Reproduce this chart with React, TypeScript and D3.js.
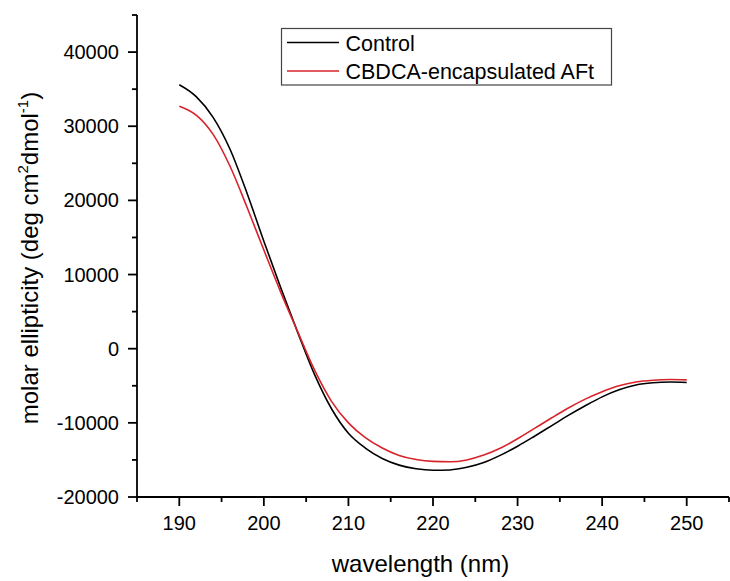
import React from 'react';
import * as d3 from 'd3';

const width = 730;
const height = 581;
const margin = { top: 15, right: 1, bottom: 84, left: 137 };
const red = '#d8232a';
const font = '"Liberation Sans", Arial, sans-serif';

// wavelength (nm) every 2 nm
const wavelengths = [
  190, 192, 194, 196, 198, 200, 202, 204, 206, 208, 210, 212, 214, 216, 218, 220,
  222, 224, 226, 228, 230, 232, 234, 236, 238, 240, 242, 244, 246, 248, 250
];
const control = [
  35600, 34000, 31200, 26900, 21000, 14500, 8200, 2200, -3500, -8100, -11400, -13400,
  -14800, -15700, -16200, -16400, -16350, -16000, -15350, -14350, -13150, -11800,
  -10400, -9000, -7700, -6500, -5550, -4900, -4600, -4500, -4550
];
const cbdca = [
  32700, 31500, 28900, 24600, 19100, 13300, 7600, 2300, -2900, -7100, -10000, -12000,
  -13400, -14400, -14950, -15200, -15250, -15000, -14350, -13400, -12150, -10750,
  -9350, -8000, -6800, -5800, -5000, -4500, -4250, -4150, -4200
];

const series = [
  { name: 'Control', values: control, color: '#000' },
  { name: 'CBDCA-encapsulated AFt', values: cbdca, color: red }
];

const xMajor = [190, 200, 210, 220, 230, 240, 250];
const xMinor = [185, 195, 205, 215, 225, 235, 245, 255];
const yMajor = [-20000, -10000, 0, 10000, 20000, 30000, 40000];
const yMinor = [-15000, -5000, 5000, 15000, 25000, 35000, 45000];

const x = d3.scaleLinear().domain([185, 255]).range([margin.left, width - margin.right]);
const y = d3.scaleLinear().domain([-20000, 45000]).range([height - margin.bottom, margin.top]);

const line = d3
  .line<number>()
  .x((d, i) => x(wavelengths[i]))
  .y(d => y(d))
  .curve(d3.curveMonotoneX);

export default function App() {
  const x0 = margin.left;
  const y0 = height - margin.bottom;
  return (
    <svg
      width={width}
      height={height}
      style={{ position: 'absolute', left: 0, top: 0, background: '#fff' }}
      fontFamily={font}
    >
      {/* axes */}
      <line x1={x0} x2={x0} y1={margin.top} y2={y0} stroke="#000" strokeWidth={1.8} />
      <line x1={x0} x2={width - margin.right} y1={y0} y2={y0} stroke="#000" strokeWidth={1.8} />
      {yMajor.map(v => (
        <g key={'ym' + v}>
          <line x1={x0 - 9} x2={x0} y1={y(v)} y2={y(v)} stroke="#000" strokeWidth={1.8} />
          <text x={x0 - 18} y={y(v)} dy="0.35em" textAnchor="end" fontSize={20}>
            {v}
          </text>
        </g>
      ))}
      {yMinor.map(v => (
        <line key={'yn' + v} x1={x0 - 5} x2={x0} y1={y(v)} y2={y(v)} stroke="#000" strokeWidth={1.8} />
      ))}
      {xMajor.map(v => (
        <g key={'xm' + v}>
          <line x1={x(v)} x2={x(v)} y1={y0} y2={y0 + 9} stroke="#000" strokeWidth={1.8} />
          <text x={x(v)} y={y0 + 33} textAnchor="middle" fontSize={20}>
            {v}
          </text>
        </g>
      ))}
      {xMinor.map(v => (
        <line key={'xn' + v} x1={x(v)} x2={x(v)} y1={y0} y2={y0 + 5} stroke="#000" strokeWidth={1.8} />
      ))}

      {/* curves */}
      {series.map(s => (
        <path key={s.name} d={line(s.values) || ''} fill="none" stroke={s.color} strokeWidth={1.6} />
      ))}

      {/* axis titles */}
      <text x={420.5} y={571.5} textAnchor="middle" fontSize={24}>
        wavelength (nm)
      </text>
      <text transform={`translate(37.5,258) rotate(-90)`} textAnchor="middle" fontSize={24}>
        molar ellipticity (deg cm
        <tspan fontSize={15} dy={-10}>2</tspan>
        <tspan dy={10}>dmol</tspan>
        <tspan fontSize={15} dy={-10}>-1</tspan>
        <tspan dy={10}>)</tspan>
      </text>

      {/* legend */}
      <rect x={281.5} y={28.5} width={330} height={56.5} fill="#fff" stroke="#444" strokeWidth={1.2} />
      {series.map((s, i) => (
        <g key={'lg' + s.name}>
          <line x1={287} x2={339} y1={42.5 + i * 28.5} y2={42.5 + i * 28.5} stroke={s.color} strokeWidth={1.6} />
          <text x={345.5} y={50.5 + i * 28.5} fontSize={21.5}>
            {s.name}
          </text>
        </g>
      ))}
    </svg>
  );
}
